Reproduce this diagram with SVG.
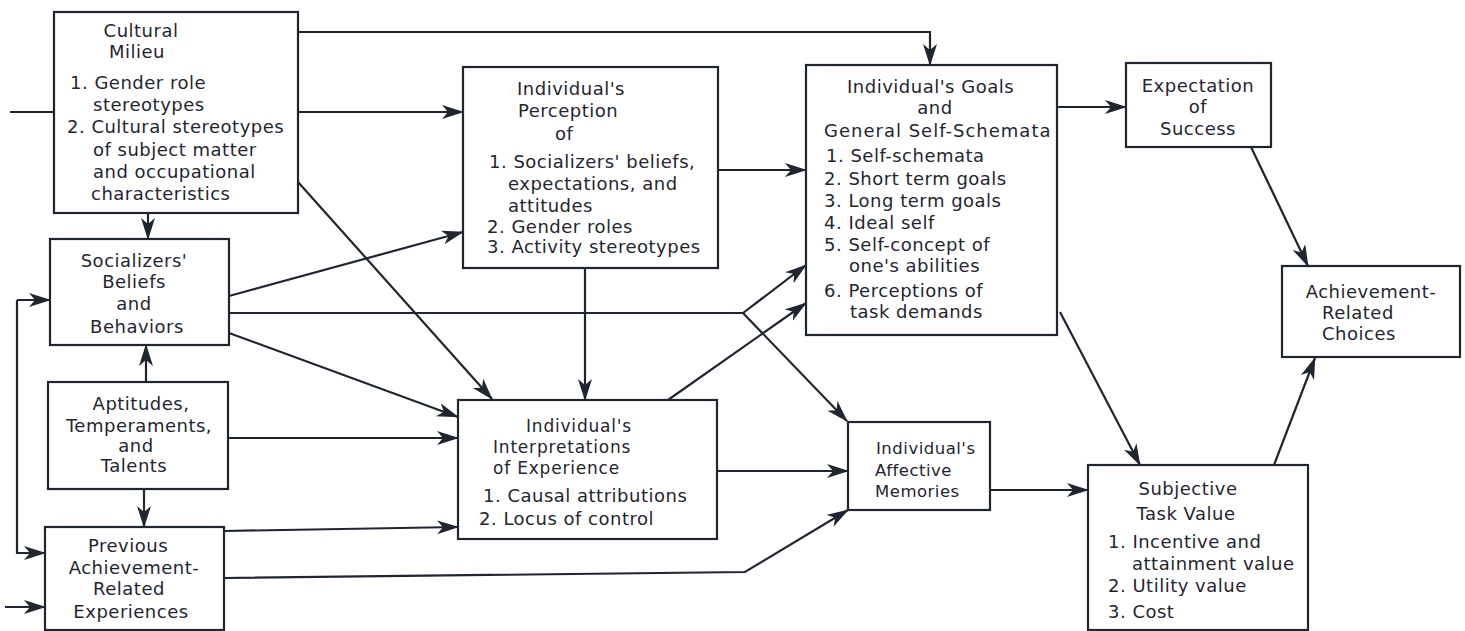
<svg xmlns="http://www.w3.org/2000/svg" width="1465" height="631" viewBox="0 0 1465 631">
<style>
.box{fill:#fff;stroke:#1f2630;stroke-width:2.2}
.c{fill:none;stroke:#1f2630;stroke-width:2.2}
text{font-family:"DejaVu Sans",sans-serif;font-size:18px;fill:#1f2630;letter-spacing:0.5px}
.m{text-anchor:middle}
.s{font-size:16.5px}
.t{font-size:17px;letter-spacing:0.8px}
</style>
<defs>
<marker id="a" markerUnits="userSpaceOnUse" markerWidth="24" markerHeight="16" refX="21" refY="7" orient="auto">
<path d="M0,0 L22,7 L0,14 L6,7 Z" fill="#1f2630"/>
</marker>
</defs>
<rect width="1465" height="631" fill="#fff"/>
<g id="connectors">
<path class="c" d="M10,112 H54"/>
<path class="c" d="M298,32 H930 V65" marker-end="url(#a)"/>
<path class="c" d="M298,112 H463" marker-end="url(#a)"/>
<path class="c" d="M298,182 L492,399" marker-end="url(#a)"/>
<path class="c" d="M148,213 V239" marker-end="url(#a)"/>
<path class="c" d="M229,296 L463,232" marker-end="url(#a)"/>
<path class="c" d="M229,313 H743 L806,265" marker-end="url(#a)"/>
<path class="c" d="M743,313 L847,421" marker-end="url(#a)"/>
<path class="c" d="M668,400 L806,303" marker-end="url(#a)"/>
<path class="c" d="M585,268 V400" marker-end="url(#a)"/>
<path class="c" d="M718,170 H806" marker-end="url(#a)"/>
<path class="c" d="M229,333 L458,417" marker-end="url(#a)"/>
<path class="c" d="M146,382 V345" marker-end="url(#a)"/>
<path class="c" d="M228,438 H458" marker-end="url(#a)"/>
<path class="c" d="M144,489 V527" marker-end="url(#a)"/>
<path class="c" d="M224,531 L458,527" marker-end="url(#a)"/>
<path class="c" d="M224,578 L745,572 L848,510" marker-end="url(#a)"/>
<path class="c" d="M17,300 H50" marker-end="url(#a)"/>
<path class="c" d="M17,300 V553 H45" marker-end="url(#a)"/>
<path class="c" d="M5,607 H45" marker-end="url(#a)"/>
<path class="c" d="M717,471 H848" marker-end="url(#a)"/>
<path class="c" d="M990,490 H1088" marker-end="url(#a)"/>
<path class="c" d="M1057,107 H1126" marker-end="url(#a)"/>
<path class="c" d="M1060,312 L1140,465" marker-end="url(#a)"/>
<path class="c" d="M1251,147 L1308,266" marker-end="url(#a)"/>
<path class="c" d="M1274,465 L1315,358" marker-end="url(#a)"/>
</g>
<g id="cultural">
<rect class="box" x="54" y="12" width="244" height="201"/>
<text class="m" x="141" y="37">Cultural</text>
<text class="m" x="137" y="58">Milieu</text>
<text x="70" y="89">1. Gender role</text>
<text x="93" y="111">stereotypes</text>
<text x="67" y="133">2. Cultural stereotypes</text>
<text x="93" y="156">of subject matter</text>
<text x="93" y="178">and occupational</text>
<text x="91" y="200">characteristics</text>
</g>
<g id="socializers">
<rect class="box" x="50" y="239" width="179" height="106"/>
<text class="m" x="134" y="267">Socializers'</text>
<text class="m" x="134" y="288">Beliefs</text>
<text class="m" x="134" y="310">and</text>
<text class="m" x="137" y="333">Behaviors</text>
</g>
<g id="aptitudes">
<rect class="box" x="48" y="382" width="180" height="107"/>
<text class="m" x="141" y="410">Aptitudes,</text>
<text class="m" x="139" y="432">Temperaments,</text>
<text class="m" x="136" y="452">and</text>
<text class="m" x="134" y="472">Talents</text>
</g>
<g id="previous">
<rect class="box" x="45" y="527" width="179" height="103"/>
<text class="m" x="128" y="552">Previous</text>
<text class="m" x="134" y="574">Achievement-</text>
<text class="m" x="129" y="595">Related</text>
<text class="m" x="131" y="618">Experiences</text>
</g>
<g id="perception">
<rect class="box" x="463" y="67" width="255" height="201"/>
<text x="517" y="95">Individual's</text>
<text x="518" y="117">Perception</text>
<text x="555" y="140">of</text>
<text x="489" y="168">1. Socializers' beliefs,</text>
<text x="508" y="190">expectations, and</text>
<text x="508" y="212">attitudes</text>
<text x="487" y="233">2. Gender roles</text>
<text x="487" y="253">3. Activity stereotypes</text>
</g>
<g id="goals">
<rect class="box" x="806" y="65" width="251" height="270"/>
<text x="847" y="93">Individual's Goals</text>
<text class="m" x="935" y="114">and</text>
<text x="824" y="137" style="letter-spacing:1px">General Self-Schemata</text>
<text x="826" y="162">1. Self-schemata</text>
<text x="824" y="185">2. Short term goals</text>
<text x="824" y="207">3. Long term goals</text>
<text x="824" y="229">4. Ideal self</text>
<text x="824" y="251">5. Self-concept of</text>
<text x="849" y="272">one's abilities</text>
<text x="824" y="297">6. Perceptions of</text>
<text x="850" y="318">task demands</text>
</g>
<g id="expectation">
<rect class="box" x="1126" y="63" width="145" height="84"/>
<text class="m" x="1198" y="92">Expectation</text>
<text class="m" x="1198" y="113">of</text>
<text class="m" x="1198" y="135">Success</text>
</g>
<g id="achievement">
<rect class="box" x="1282" y="266" width="178" height="91"/>
<text class="m" x="1371" y="298">Achievement-</text>
<text x="1322" y="319">Related</text>
<text x="1322" y="340">Choices</text>
</g>
<g id="interpretations">
<rect class="box" x="458" y="400" width="259" height="139"/>
<text class="t" x="526" y="432">Individual's</text>
<text class="t" x="493" y="453">Interpretations</text>
<text class="t" x="493" y="474">of Experience</text>
<text x="483" y="502">1. Causal attributions</text>
<text x="479" y="525">2. Locus of control</text>
</g>
<g id="affective">
<rect class="box" x="848" y="422" width="142" height="88"/>
<text class="s" x="876" y="454">Individual's</text>
<text class="s" x="875" y="476">Affective</text>
<text class="s" x="875" y="497">Memories</text>
</g>
<g id="subjective">
<rect class="box" x="1088" y="465" width="220" height="165"/>
<text class="m" x="1188" y="495">Subjective</text>
<text class="m" x="1186" y="520">Task Value</text>
<text x="1108" y="548">1. Incentive and</text>
<text x="1132" y="570">attainment value</text>
<text x="1108" y="592">2. Utility value</text>
<text x="1108" y="618">3. Cost</text>
</g>
</svg>
